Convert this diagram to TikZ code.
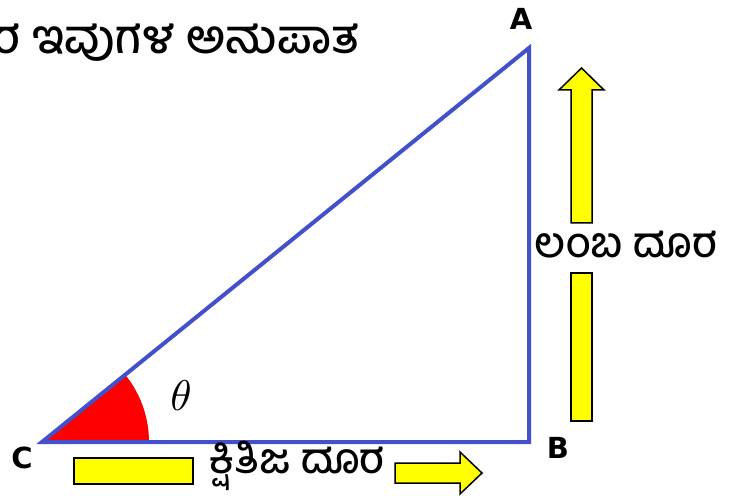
\documentclass[tikz,border=0pt]{standalone}
\usepackage{fontspec}
\setsansfont{DejaVu Sans}
\newfontfamily\kannada[Script=Kannada, UprightFont=* Medium]{Hind Mysuru}
\usetikzlibrary{positioning, calc}
\definecolor{EdgeBlu}{HTML}{4250CC}
\definecolor{AngRed} {HTML}{FF0000}
\definecolor{ArrYel} {HTML}{FFFF00}

\tikzset{
  vtxlbl/.style={font=\fontsize{29}{29}\selectfont\sffamily\bfseries, inner sep=0pt},
  kntxt/.style={font=\fontsize{42}{42}\selectfont\kannada, inner sep=0pt},
  yelbox/.style={fill=ArrYel, draw=black, line width=1.5pt, line join=miter},
}

\begin{document}
\begin{tikzpicture}[x=1pt, y=-1pt]
      \useasboundingbox (0,0) rectangle (733,502);
      % ── triangle corners ─────────────────────────────────────────────────────
      \coordinate (C) at (42,442);
      \coordinate (B) at (529,442);
      \coordinate (A) at (529,48);

      % ── angle sector at C (clipped to the triangle) ─────────────────────────
      \begin{scope}
        \clip (C) -- (B) -- (A) -- cycle;
        \fill[AngRed] (C) circle (107);
      \end{scope}

      % ── triangle sides ───────────────────────────────────────────────────────
      \draw[EdgeBlu, line width=4pt, line join=miter] (C) -- (B) -- (A) -- cycle;

      % ── corner labels ────────────────────────────────────────────────────────
      \node[vtxlbl] (lblA) at (521,19) {A};
      \node[vtxlbl] (lblB) at (558,448) {B};
      \node[vtxlbl] (lblC) at (22,458) {C};
      \node[scale=4.3, inner sep=0pt] (theta) at (181,396) {$\theta$};

      % ── vertical distance (arrow up, split by its label) ─────────────────────
      \draw[yelbox] (571,223) -- (571,90) -- (559,90) -- (581.5,68)
        -- (604,90) -- (592,90) -- (592,223) -- cycle;
      \draw[yelbox] (571,273) rectangle (592,421);
      \node[kntxt] (vdist) at (626,245) {ಲಂಬ ದೂರ};

      % ── horizontal distance (arrow right, split by its label) ────────────────
      \draw[yelbox] (74,458) rectangle (193,484);
      \draw[yelbox] (395,463) -- (460,463) -- (460,452) -- (482,473)
        -- (460,494) -- (460,483) -- (395,483) -- cycle;
      \node[kntxt] (hdist) at (297,466) {ಕ್ಷಿತಿಜ ದೂರ};

      % ── title (cut at the left edge) ────────────────────────────────────────
      \node[kntxt, font=\fontsize{47}{47}\selectfont\kannada, anchor=east]
        (title) at (360,43) {ರ ಇವುಗಳ ಅನುಪಾತ};
\end{tikzpicture}
\end{document}
